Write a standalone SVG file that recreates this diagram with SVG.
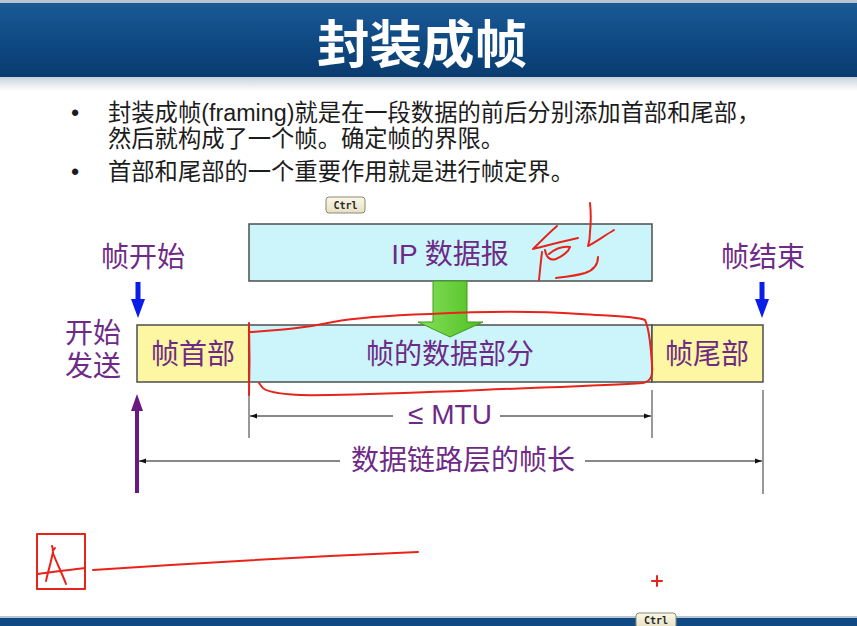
<svg xmlns="http://www.w3.org/2000/svg" width="857" height="626" viewBox="0 0 857 626">
  <style>
    .cjk { font-family: "Liberation Sans", "Noto Sans CJK SC", sans-serif; }
    .bullet { font-size: 23.3px; fill: #1c1c1c; }
    .lbl { font-size: 28px; fill: #6e2a86; text-anchor: middle; }
    .box { stroke: #4d4d4d; stroke-width: 1.5; }
    .cyan { fill: #cbf5fb; }
    .yellow { fill: #fdf6a2; }
    .dim { stroke: #111; stroke-width: 1; fill: none; }
    .ext { stroke: #333; stroke-width: 1; }
    .ink { stroke: #e8231a; stroke-width: 2; fill: none; stroke-linecap: round; stroke-linejoin: round; }
    .tip rect { fill: url(#tipFill); stroke: #8a8a78; stroke-width: 1; }
    .tip text { font-family: "DejaVu Sans Mono", "Liberation Mono", monospace; font-size: 10px; font-weight: bold; fill: #2a2a2a; text-anchor: middle; }
  </style>
  <defs>
    <linearGradient id="barFill" x1="0" y1="0" x2="0" y2="1">
      <stop offset="0" stop-color="#1b5a97"/>
      <stop offset="0.5" stop-color="#0f4a84"/>
      <stop offset="1" stop-color="#0a3c70"/>
    </linearGradient>
    <linearGradient id="shadeFill" x1="0" y1="0" x2="0" y2="1">
      <stop offset="0" stop-color="#c9d2dc"/>
      <stop offset="1" stop-color="#ffffff"/>
    </linearGradient>
    <linearGradient id="greenFill" x1="0" y1="0" x2="1" y2="0">
      <stop offset="0" stop-color="#86e05a"/>
      <stop offset="1" stop-color="#4fbf22"/>
    </linearGradient>
    <linearGradient id="tipFill" x1="0" y1="0" x2="0" y2="1">
      <stop offset="0" stop-color="#fbf8e6"/>
      <stop offset="1" stop-color="#e6e0c4"/>
    </linearGradient>
    <marker id="dimHead" viewBox="0 0 10 10" refX="10" refY="5" markerWidth="7" markerHeight="7" orient="auto-start-reverse" markerUnits="userSpaceOnUse">
      <path d="M0,1.5 L10,5 L0,8.5 Z" fill="#111"/>
    </marker>
  </defs>

  <!-- page background -->
  <rect x="0" y="0" width="857" height="626" fill="#ffffff"/>

  <!-- title bar -->
  <g id="title">
    <rect x="0" y="0" width="857" height="4" fill="#b9c4cf"/>
    <rect x="0" y="3" width="857" height="74" fill="url(#barFill)"/>
    <rect x="0" y="77" width="857" height="14" fill="url(#shadeFill)"/>
    <text x="422" y="63" font-family="'Noto Sans CJK SC', sans-serif" font-weight="bold" font-size="51" fill="#ffffff" text-anchor="middle" textLength="210" lengthAdjust="spacingAndGlyphs">封装成帧</text>
  </g>

  <!-- bullet text -->
  <g id="bullets" class="cjk bullet">
    <text x="71" y="121">•</text>
    <text x="108" y="121">封装成帧(framing)就是在一段数据的前后分别添加首部和尾部，</text>
    <text x="108" y="147">然后就构成了一个帧。确定帧的界限。</text>
    <text x="71" y="180">•</text>
    <text x="108" y="180">首部和尾部的一个重要作用就是进行帧定界。</text>
  </g>

  <!-- IP datagram -->
  <g id="ip-datagram">
    <rect class="box cyan" x="249" y="224" width="403" height="57"/>
    <text class="cjk lbl" x="450" y="264">IP 数据报</text>
  </g>

  <!-- frame: header, data, trailer -->
  <g id="frame-header">
    <rect class="box yellow" x="137" y="325" width="112" height="57"/>
    <text class="cjk lbl" x="193" y="364">帧首部</text>
  </g>
  <g id="frame-data">
    <rect class="box cyan" x="249" y="325" width="403" height="57"/>
    <text class="cjk lbl" x="450" y="364">帧的数据部分</text>
  </g>
  <g id="frame-trailer">
    <rect class="box yellow" x="652" y="325" width="111" height="57"/>
    <text class="cjk lbl" x="707" y="364">帧尾部</text>
  </g>

  <!-- side labels -->
  <g id="label-start">
    <text class="cjk lbl" x="143" y="267">帧开始</text>
  </g>
  <g id="label-end">
    <text class="cjk lbl" x="763" y="267">帧结束</text>
  </g>
  <g id="label-send">
    <text class="cjk lbl" x="93" y="343" font-size="27">开始</text>
    <text class="cjk lbl" x="93" y="376" font-size="27">发送</text>
  </g>

  <!-- connectors -->
  <g id="connectors">
    <!-- encapsulation arrow -->
    <path d="M433,281 L467,281 L467,322 L483,322 L450,337 L418,322 L433,322 Z" fill="url(#greenFill)" stroke="#3f9a1c" stroke-width="1"/>
    <!-- frame start / end markers -->
    <path d="M135.5,282 L140.5,282 L140.5,299 L145,299 L138,318 L131,299 L135.5,299 Z" fill="#0b1ee8"/>
    <path d="M759.5,282 L764.5,282 L764.5,299 L769,299 L762,318 L755,299 L759.5,299 Z" fill="#0b1ee8"/>
    <!-- send direction -->
    <path d="M135,493 L139,493 L139,411 L143,411 L137,394 L131,411 L135,411 Z" fill="#6a1a7e"/>
    <!-- extension lines -->
    <line class="ext" x1="249" y1="382" x2="249" y2="438"/>
    <line class="ext" x1="652" y1="390" x2="652" y2="438"/>
    <line class="ext" x1="763" y1="390" x2="763" y2="494"/>
    <!-- MTU dimension -->
    <line class="dim" x1="393" y1="416" x2="250" y2="416" marker-end="url(#dimHead)"/>
    <line class="dim" x1="500" y1="416" x2="651" y2="416" marker-end="url(#dimHead)"/>
    <text class="cjk lbl" x="450" y="424" font-size="27">≤ MTU</text>
    <!-- frame length dimension -->
    <line class="dim" x1="340" y1="461" x2="139" y2="461" marker-end="url(#dimHead)"/>
    <line class="dim" x1="585" y1="461" x2="762" y2="461" marker-end="url(#dimHead)"/>
    <text class="cjk lbl" x="463" y="470">数据链路层的帧长</text>
  </g>

  <!-- pen annotations -->
  <g id="ink">
    <path class="ink" d="M249,323 L249.5,360 L249,395"/>
    <path class="ink" d="M250,332 C280,330 300,329 333,322 C360,317 400,315 430,314 C470,312 520,310 580,314 C610,316 635,316 645,320 C650,330 651,350 652,365 C653,376 651,381 643,383 C600,386 520,388 460,391 C400,393 330,396 300,395 C280,394 265,392 262,387 L259,383"/>
    <!-- scribble on the IP datagram -->
    <path class="ink" d="M590,203 C591,212 591,222 590,232 C590,238 589,243 588,246 C594,243 604,236 614,230"/>
    <path class="ink" d="M598,257 C598,265 594,270 585,273 C575,276 565,277 556,278"/>
    <path class="ink" d="M557,226 C550,232 542,240 533,249 C545,246 560,242 578,238"/>
    <path class="ink" d="M545,250 C546,257 550,261 556,259 C563,256 569,251 570,247 C563,246 555,249 549,254"/>
    <path class="ink" d="M542,252 C541,260 540,270 539,280"/>
    <!-- boxed mark and stroke at the bottom -->
    <rect class="ink" x="37" y="534" width="48" height="55"/>
    <path class="ink" d="M52,546 C54,550 51,553 55,548"/>
    <path class="ink" d="M53,552 C51,562 48,572 46,581"/>
    <path class="ink" d="M53,553 C57,564 62,573 66,584"/>
    <path class="ink" d="M38,574 C52,572 70,570 85,568"/>
    <path class="ink" d="M93,570 C180,564 300,557 418,552"/>
    <path class="ink" d="M657,576 L657,586 M652,581 L662,581"/>
  </g>

  <!-- keyboard hint tooltips -->
  <g id="tip-top" class="tip">
    <rect x="326" y="197" width="39" height="16" rx="3"/>
    <text x="345.5" y="209">Ctrl</text>
  </g>

  <!-- bottom bar -->
  <g id="footer">
    <rect x="0" y="616" width="857" height="2" fill="#b8c6d4"/>
    <rect x="0" y="618" width="857" height="8" fill="#0f4a84"/>
  </g>
  <g id="tip-bottom" class="tip">
    <rect x="636" y="613" width="40" height="15" rx="3"/>
    <text x="656" y="624">Ctrl</text>
  </g>
</svg>
